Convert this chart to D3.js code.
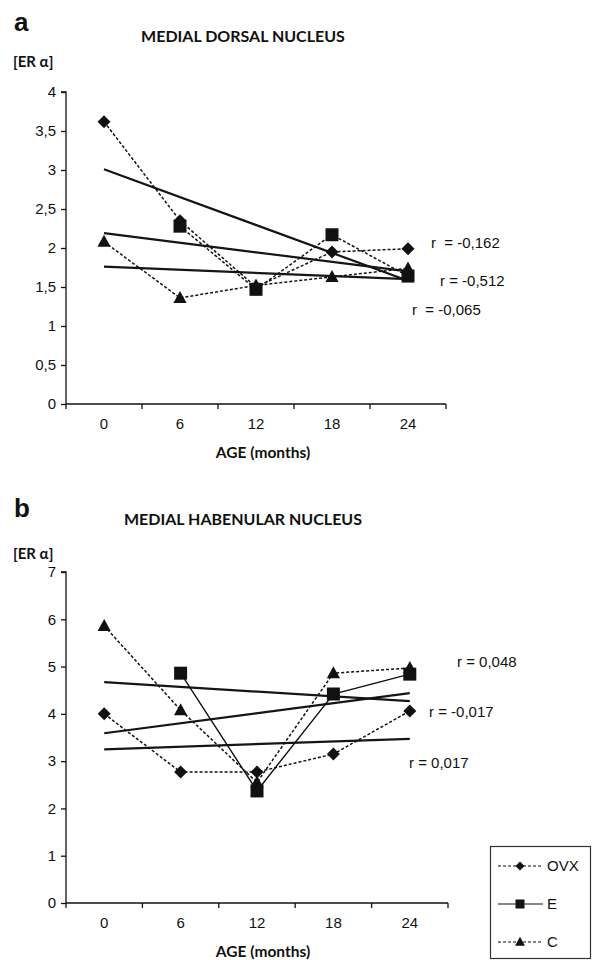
<!DOCTYPE html>
<html>
<head>
<meta charset="utf-8">
<script src="https://cdn.jsdelivr.net/npm/d3@7"></script>
<style>
  body { margin: 0; background: #fff; }
  svg text { fill: #111; }
</style>
</head>
<body>
<div id="chart"></div>
<script>
// months on the x axis
var months = ["0", "6", "12", "18", "24"];

// panel a - medial dorsal nucleus
var ovxA = [3.62, 2.35, 1.50, 1.95, 1.99];
var eA   = [null, 2.28, 1.47, 2.17, 1.64];
var cA   = [2.08, 1.36, 1.52, 1.63, 1.74];
var trendA = [[3.01, 1.58], [2.19, 1.70], [1.76, 1.60]];
var rLabelsA = ["r  = -0,162", "r = -0,512", "r  = -0,065"];
var yTicksA = [0, 0.5, 1, 1.5, 2, 2.5, 3, 3.5, 4];

// panel b - medial habenular nucleus
var ovxB = [4.00, 2.77, 2.77, 3.15, 4.06];
var eB   = [null, 4.86, 2.37, 4.42, 4.84];
var cB   = [5.86, 4.08, 2.55, 4.86, 4.97];
var trendB = [[4.67, 4.27], [3.59, 4.44], [3.25, 3.47]];
var rLabelsB = ["r = 0,048", "r = -0,017", "r = 0,017"];
var yTicksB = [0, 1, 2, 3, 4, 5, 6, 7];

var legendNames = ["OVX", "E", "C"];

var W = 593, H = 960;
var svg = d3.select('#chart').append('svg')
    .attr('width', W)
    .attr('height', H);

var ink = '#111';
var fmt = function(d) { return String(d).replace('.', ','); };

var shapes = {
  diamond: function(s) { return 'M0,' + (-s) + 'L' + s + ',0L0,' + s + 'L' + (-s) + ',0Z'; },
  square: function(s) { return 'M' + (-s) + ',' + (-s) + 'h' + (2*s) + 'v' + (2*s) + 'h' + (-2*s) + 'Z'; },
  triangle: function(s) { return 'M0,' + (-s*1.15) + 'L' + (s*1.1) + ',' + (s*0.85) + 'L' + (-s*1.1) + ',' + (s*0.85) + 'Z'; }
};

function drawPanel(p) {
  var g = svg.append('g');

  var x = d3.scaleBand().domain(months).range([66, p.xEnd]).padding(0);
  var cx = function(m) { return x(m) + x.bandwidth() / 2; };
  var y = d3.scaleLinear().domain([0, p.yMax]).range([p.y0, p.yTop]);

  // letter, title, y label
  g.append('text').attr('x', 14).attr('y', p.letterY)
    .attr('font-family', 'Liberation Sans, Arial, sans-serif')
    .attr('font-weight', 'bold').attr('font-size', 26)
    .text(p.letter);
  g.append('text').attr('x', 243).attr('y', p.titleY)
    .attr('text-anchor', 'middle')
    .attr('font-family', 'Lato, sans-serif')
    .attr('font-weight', 'bold').attr('font-size', 16)
    .text(p.title);
  g.append('text').attr('x', 13).attr('y', p.erY)
    .attr('font-family', 'Lato, sans-serif')
    .attr('font-weight', 'bold').attr('font-size', 15)
    .text('[ER α]');

  // y axis
  var ya = g.append('g')
    .attr('transform', 'translate(66,0)')
    .call(d3.axisLeft(y).tickValues(p.yTicks).tickFormat(fmt).tickSize(5).tickPadding(5));
  ya.select('.domain').attr('stroke', ink).attr('stroke-width', 1.3).attr('d', 'M-5,' + p.yTop + 'H0V' + p.y0);
  ya.selectAll('.tick line').attr('stroke', ink).attr('stroke-width', 1.3);
  ya.selectAll('text').attr('font-family', 'Liberation Sans, Arial, sans-serif').attr('font-size', 15).attr('fill', ink);

  // x axis: ticks on category edges, labels at centres
  var edges = months.map(function(m) { return x(m); }).concat([p.xEnd]);
  g.append('line').attr('x1', 66).attr('x2', p.xEnd).attr('y1', p.y0).attr('y2', p.y0)
    .attr('stroke', ink).attr('stroke-width', 1.3);
  g.selectAll('.xt').data(edges).enter().append('line')
    .attr('x1', function(d) { return d; }).attr('x2', function(d) { return d; })
    .attr('y1', p.y0).attr('y2', p.y0 + 5)
    .attr('stroke', ink).attr('stroke-width', 1.3);
  g.selectAll('.xl').data(months).enter().append('text')
    .attr('x', cx).attr('y', p.y0 + 25)
    .attr('text-anchor', 'middle')
    .attr('font-family', 'Liberation Sans, Arial, sans-serif').attr('font-size', 15)
    .text(function(d) { return d; });
  g.append('text').attr('x', 263).attr('y', p.y0 + 54)
    .attr('text-anchor', 'middle')
    .attr('font-family', 'Lato, sans-serif')
    .attr('font-weight', 'bold').attr('font-size', 15.5)
    .text('AGE (months)');

  // trend lines
  p.trend.forEach(function(t) {
    g.append('line')
      .attr('x1', cx(months[0])).attr('y1', y(t[0]))
      .attr('x2', cx(months[months.length - 1])).attr('y2', y(t[1]))
      .attr('stroke', '#151515').attr('stroke-width', 2.2);
  });

  // series
  p.series.forEach(function(s) {
    var pts = s.values.map(function(v, i) { return {m: months[i], v: v}; })
      .filter(function(d) { return d.v !== null; });
    g.append('path').datum(pts)
      .attr('fill', 'none').attr('stroke', ink)
      .attr('stroke-width', s.dashed ? 1.5 : 1.4)
      .attr('stroke-dasharray', s.dashed ? '3,2' : null)
      .attr('d', d3.line().x(function(d) { return cx(d.m); }).y(function(d) { return y(d.v); }));
    g.selectAll(null).data(pts).enter().append('path')
      .attr('transform', function(d) { return 'translate(' + cx(d.m) + ',' + y(d.v) + ')'; })
      .attr('d', shapes[s.shape](s.size))
      .attr('fill', ink);
  });

  // r labels
  p.rLabels.forEach(function(r, i) {
    g.append('text').attr('x', p.rPos[i][0]).attr('y', p.rPos[i][1])
      .attr('dy', '0.35em')
      .attr('xml:space', 'preserve').style('white-space', 'pre')
      .attr('font-family', 'Liberation Sans, Arial, sans-serif').attr('font-size', 15)
      .text(r);
  });
}

drawPanel({
  letter: 'a', letterY: 31, title: 'MEDIAL DORSAL NUCLEUS', titleY: 42, erY: 67,
  yMax: 4, y0: 404, yTop: 92, xEnd: 446, yTicks: yTicksA,
  trend: trendA,
  series: [
    {values: ovxA, shape: 'diamond', size: 6.5, dashed: true},
    {values: eA, shape: 'square', size: 6.5, dashed: true},
    {values: cA, shape: 'triangle', size: 6, dashed: true}
  ],
  rLabels: rLabelsA, rPos: [[431, 243], [440, 281], [412, 310]]
});

drawPanel({
  letter: 'b', letterY: 517, title: 'MEDIAL HABENULAR NUCLEUS', titleY: 525, erY: 559,
  yMax: 7, y0: 903, yTop: 572, xEnd: 448, yTicks: yTicksB,
  trend: trendB,
  series: [
    {values: ovxB, shape: 'diamond', size: 6.5, dashed: true},
    {values: eB, shape: 'square', size: 6.5, dashed: false},
    {values: cB, shape: 'triangle', size: 6, dashed: true}
  ],
  rLabels: rLabelsB, rPos: [[457, 662], [429, 712], [409, 763]]
});

// legend
var lg = svg.append('g');
lg.append('rect').attr('x', 490.5).attr('y', 846.5).attr('width', 100).attr('height', 112)
  .attr('fill', '#fff').attr('stroke', '#333').attr('stroke-width', 1.2);
var legendShapes = ['diamond', 'square', 'triangle'];
var legendDash = [true, false, true];
var ly = d3.scalePoint().domain(legendNames).range([866, 942]);
legendNames.forEach(function(n, i) {
  lg.append('line').attr('x1', 498).attr('x2', 543).attr('y1', ly(n)).attr('y2', ly(n))
    .attr('stroke', ink).attr('stroke-width', 1.2)
    .attr('stroke-dasharray', legendDash[i] ? '3,2' : null);
  lg.append('path').attr('transform', 'translate(520,' + ly(n) + ')')
    .attr('d', shapes[legendShapes[i]](4.5)).attr('fill', ink);
  lg.append('text').attr('x', 547).attr('y', ly(n)).attr('dy', '0.35em')
    .attr('font-family', 'Liberation Sans, Arial, sans-serif').attr('font-size', 15)
    .text(n);
});
</script>
</body>
</html>
